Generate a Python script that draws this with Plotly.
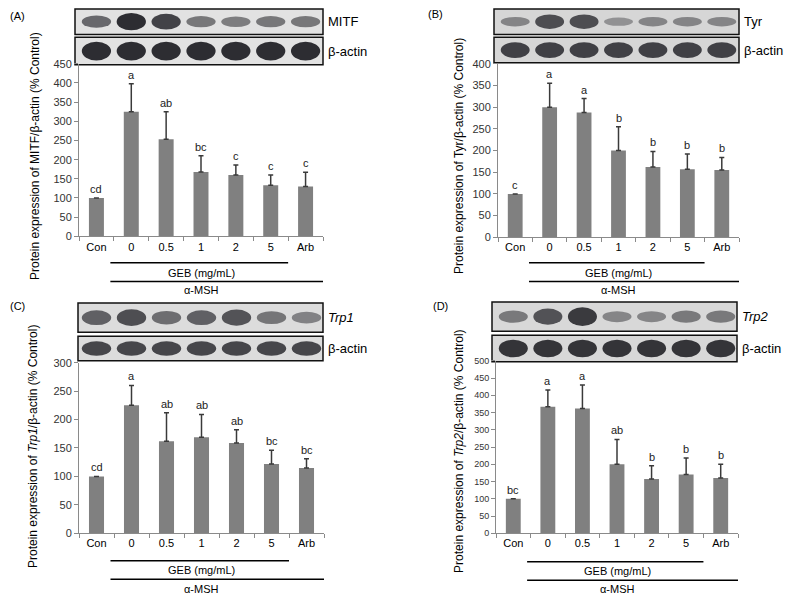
import plotly.graph_objects as go

# data
categories = ['Con', '0', '0.5', '1', '2', '5', 'Arb']

mitf_vals = [100, 325, 253, 168, 160, 133, 130]
mitf_err = [0, 73, 72, 42, 26, 27, 37]
mitf_letters = ['cd', 'a', 'ab', 'bc', 'c', 'c', 'c']

tyr_vals = [100, 300, 288, 200, 162, 157, 155]
tyr_err = [0, 55, 32, 55, 36, 35, 29]
tyr_letters = ['c', 'a', 'a', 'b', 'b', 'b', 'b']

trp1_vals = [100, 225, 162, 169, 159, 122, 115]
trp1_err = [0, 35, 50, 40, 23, 24, 16]
trp1_letters = ['cd', 'a', 'ab', 'ab', 'ab', 'bc', 'bc']

trp2_vals = [100, 367, 362, 200, 157, 170, 160]
trp2_err = [0, 48, 68, 72, 39, 48, 40]
trp2_letters = ['bc', 'a', 'a', 'ab', 'b', 'b', 'b']

# blot band intensities (0-1)
mitf_band = [0.55, 1.0, 0.85, 0.45, 0.40, 0.45, 0.45]
mitf_actin = [1.0, 1.0, 1.0, 1.0, 1.0, 1.0, 1.0]
tyr_band = [0.30, 0.75, 0.75, 0.20, 0.30, 0.30, 0.30]
tyr_actin = [0.85, 0.85, 0.85, 0.85, 0.85, 0.85, 0.85]
trp1_band = [0.60, 0.75, 0.50, 0.60, 0.70, 0.45, 0.35]
trp1_actin = [0.80, 0.80, 0.80, 0.80, 0.80, 0.80, 0.80]
trp2_band = [0.40, 0.70, 0.90, 0.30, 0.30, 0.40, 0.40]
trp2_actin = [0.95, 0.95, 0.95, 0.95, 0.95, 0.95, 0.95]

W, H = 789, 601


def px(x):
    return x / W


def py(y):
    return 1 - y / H


panels = [
    dict(label='(A)', vals=mitf_vals, err=mitf_err, letters=mitf_letters,
         band=mitf_band, actin=mitf_actin, prot='MITF', ymax=450, dtick=50,
         ax=(79, 323), ay=(235, 59), blot_x=(75, 323), s1=(3, 29), s2=(32, 60),
         lab_xy=(8, 10), title_xy=(35, 153), geb_y=262, msh_y=281,
         geb_t=272, msh_t=290, tickfs=11, blot_bg='#e2e2e2'),
    dict(label='(B)', vals=tyr_vals, err=tyr_err, letters=tyr_letters,
         band=tyr_band, actin=tyr_actin, prot='Tyr', ymax=400, dtick=50,
         ax=(498, 739), ay=(236, 59), blot_x=(494, 739), s1=(3, 29), s2=(32, 58),
         lab_xy=(426, 8), title_xy=(459, 153), geb_y=262, msh_y=281,
         geb_t=272, msh_t=290, tickfs=11, blot_bg='#d6d6d6'),
    dict(label='(C)', vals=trp1_vals, err=trp1_err, letters=trp1_letters,
         band=trp1_band, actin=trp1_actin, prot='<i>Trp1</i>', ymax=300, dtick=50,
         ax=(79, 324), ay=(538, 364), blot_x=(78, 323), s1=(303, 333), s2=(337, 362),
         lab_xy=(8, 306), title_xy=(33, 450), geb_y=566, msh_y=585,
         geb_t=576, msh_t=595, tickfs=11, blot_bg='#dcdcdc'),
    dict(label='(D)', vals=trp2_vals, err=trp2_err, letters=trp2_letters,
         band=trp2_band, actin=trp2_actin, prot='<i>Trp2</i>', ymax=500, dtick=50,
         ax=(496, 738), ay=(538, 362), blot_x=(492, 737), s1=(302, 332), s2=(336, 363),
         lab_xy=(431, 306), title_xy=(459, 455), geb_y=567, msh_y=586,
         geb_t=577, msh_t=595, tickfs=9, blot_bg='#d8d8d8'),
]

fig = go.Figure()
shapes = []
annotations = []
font = 'Liberation Sans, Arial, sans-serif'
axis_col = '#8a8a8a'


def note(**kw):
    kw.setdefault('showarrow', False)
    kw.setdefault('xanchor', 'center')
    kw.setdefault('yanchor', 'middle')
    annotations.append(kw)


for k, p in enumerate(panels):
    n = k + 1
    xa = 'x' if n == 1 else f'x{n}'
    ya = 'y' if n == 1 else f'y{n}'

    fig.add_trace(go.Bar(
        x=categories, y=p['vals'], xaxis=xa, yaxis=ya,
        marker_color='#808080', marker_line_width=0, width=0.43,
        error_y=dict(type='data', array=p['err'], arrayminus=[0] * 7,
                     symmetric=False, color='#3a3a3a', thickness=1.5, width=2.5),
        showlegend=False,
    ))

    fig.update_layout(**{
        f'xaxis{"" if n == 1 else n}': dict(
            domain=[px(p['ax'][0]), px(p['ax'][1])], anchor=ya,
            type='category', range=[-0.5, 6.5], tickson='boundaries',
            ticks='outside', ticklen=4, tickcolor=axis_col, showline=True,
            linecolor=axis_col, linewidth=1, showgrid=False,
            tickfont=dict(size=11, color='black', family=font)),
        f'yaxis{"" if n == 1 else n}': dict(
            domain=[py(p['ay'][0]), py(p['ay'][1])], anchor=xa,
            range=[0, p['ymax']], dtick=p['dtick'], ticks='outside', ticklen=4,
            tickcolor=axis_col, showline=True, linecolor=axis_col, linewidth=1,
            showgrid=False, zeroline=False,
            tickfont=dict(size=p['tickfs'], color='#333', family=font)),
    })

    # significance letters (x by category index)
    for i, (v, e, t) in enumerate(zip(p['vals'], p['err'], p['letters'])):
        note(x=i, y=v + e, xref=xa, yref=ya, text=t, yanchor='bottom', yshift=1,
             font=dict(size=11, color='#222', family=font))

    # blot strips
    bx0, bx1 = p['blot_x']
    for (s0, s1), inten, name in [(p['s1'], p['band'], p['prot']),
                                  (p['s2'], p['actin'], 'β-actin')]:
        shapes.append(dict(type='rect', xref='paper', yref='paper',
                           x0=px(bx0), x1=px(bx1), y0=py(s1), y1=py(s0),
                           fillcolor=p['blot_bg'], line=dict(color='#111', width=1.5),
                           layer='below'))
        hgt = s1 - s0
        mid = (s0 + s1) / 2
        for i, a in enumerate(inten):
            half = hgt * (0.12 + 0.22 * a)
            shapes.append(dict(type='circle', xref=xa, yref='paper',
                               x0=i - 0.42, x1=i + 0.42,
                               y0=py(mid + half), y1=py(mid - half),
                               fillcolor=f'rgba(35,35,40,{0.25 + 0.7 * a:.2f})',
                               line=dict(width=0)))
        note(x=px(bx1 + 3), y=py(mid), xref='paper', yref='paper', text=name,
             xanchor='left', font=dict(size=13, color='black', family=font))

    # treatment lines
    for yl, xend in [(p['geb_y'], 5.5), (p['msh_y'], 6.5)]:
        shapes.append(dict(type='line', xref=xa, yref='paper', x0=0.4, x1=xend,
                           y0=py(yl), y1=py(yl), line=dict(color='black', width=1.5)))
    note(x=3.0, y=py(p['geb_t']), xref=xa, yref='paper', text='GEB (mg/mL)',
         font=dict(size=11, color='black', family=font))
    note(x=3.0, y=py(p['msh_t']), xref=xa, yref='paper', text='α-MSH',
         font=dict(size=11, color='black', family=font))

    # panel label and y title
    note(x=px(p['lab_xy'][0]), y=py(p['lab_xy'][1]), xref='paper', yref='paper',
         text=p['label'], xanchor='left', font=dict(size=11, color='black', family=font))
    note(x=px(p['title_xy'][0]), y=py(p['title_xy'][1]), xref='paper', yref='paper',
         textangle=-90, text=f'Protein expression of {p["prot"]}/β-actin (% Control)',
         font=dict(size=12, color='black', family=font))

fig.update_layout(
    width=W, height=H,
    margin=dict(l=0, r=0, t=0, b=0),
    paper_bgcolor='white', plot_bgcolor='white',
    shapes=shapes, annotations=annotations,
)

# page has a default body margin; drop it so the figure sits at the top-left corner
fig.write_html('out.html', config={'displayModeBar': False},
               post_script="document.body.style.margin='0';document.body.style.overflow='hidden';")
